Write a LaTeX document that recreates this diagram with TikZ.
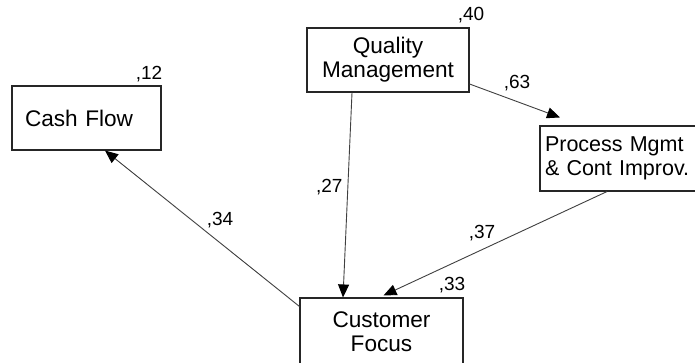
\documentclass[tikz,border=0pt]{standalone}
\usepackage{fontspec}
\setmainfont{Liberation Sans}
\usetikzlibrary{arrows.meta}
\tikzset{
  box/.style={draw=black!85, line width=1.1pt, inner sep=0pt,
    font=\fontsize{22.6}{24}\selectfont},
  coef/.style={inner sep=0pt, font=\fontsize{19}{21}\selectfont},
  arr/.style={draw=black!75, line width=0.9pt,
    -{Triangle[length=13pt,width=11pt,color=black]}}
}
\begin{document}
\begin{tikzpicture}[x=1pt,y=-1pt]
\useasboundingbox (0,0) rectangle (695,362);
\fill[white] (0,0) rectangle (695,362);
% boxes
\node[box, minimum width=149pt, minimum height=64pt, text width=123pt,
  align=left] (cash) at (86.5,118) {\raisebox{-3pt}{Cash Flow}};
\node[box, minimum width=162pt, minimum height=64pt, align=center] (qm) at (388,60) {Quality\\Management};
\node[box, minimum width=190pt, minimum height=65pt, text width=183pt,
  align=left, font=\fontsize{21.5}{24}\selectfont] (pm) at (635,158.5) {\hspace*{1.5pt}Process Mgmt\\\hspace*{1.5pt}\& Cont Improv.};
\node[box, minimum width=163pt, minimum height=68pt, align=center] (cf) at (381.5,332) {Customer\\Focus};
% coefficients
\node[coef] (c12) at (149,74) {,12};
\node[coef] (c40) at (471,15) {,40};
\node[coef] (c33) at (452,285) {,33};
% connectors
\draw[arr] ([xshift=-36pt]qm.south) -- node[coef, pos=0.46, left=5pt] (c27) {,27} ([xshift=-38.5pt]cf.north);
\draw[arr] ([yshift=-24pt]qm.east) -- ([xshift=-75pt,yshift=8pt]pm.north);
\node[coef] (c63) at (517,83) {,63};
\draw[arr] ([xshift=-28pt]pm.south) -- ([xshift=2pt,yshift=2pt]cf.north);
\node[coef] (c37) at (482,233) {,37};
\draw[arr] ([yshift=-9pt]cf.north west) -- ([xshift=18.5pt]cash.south);
\node[coef] (c34) at (220,220) {,34};
\end{tikzpicture}
\end{document}
